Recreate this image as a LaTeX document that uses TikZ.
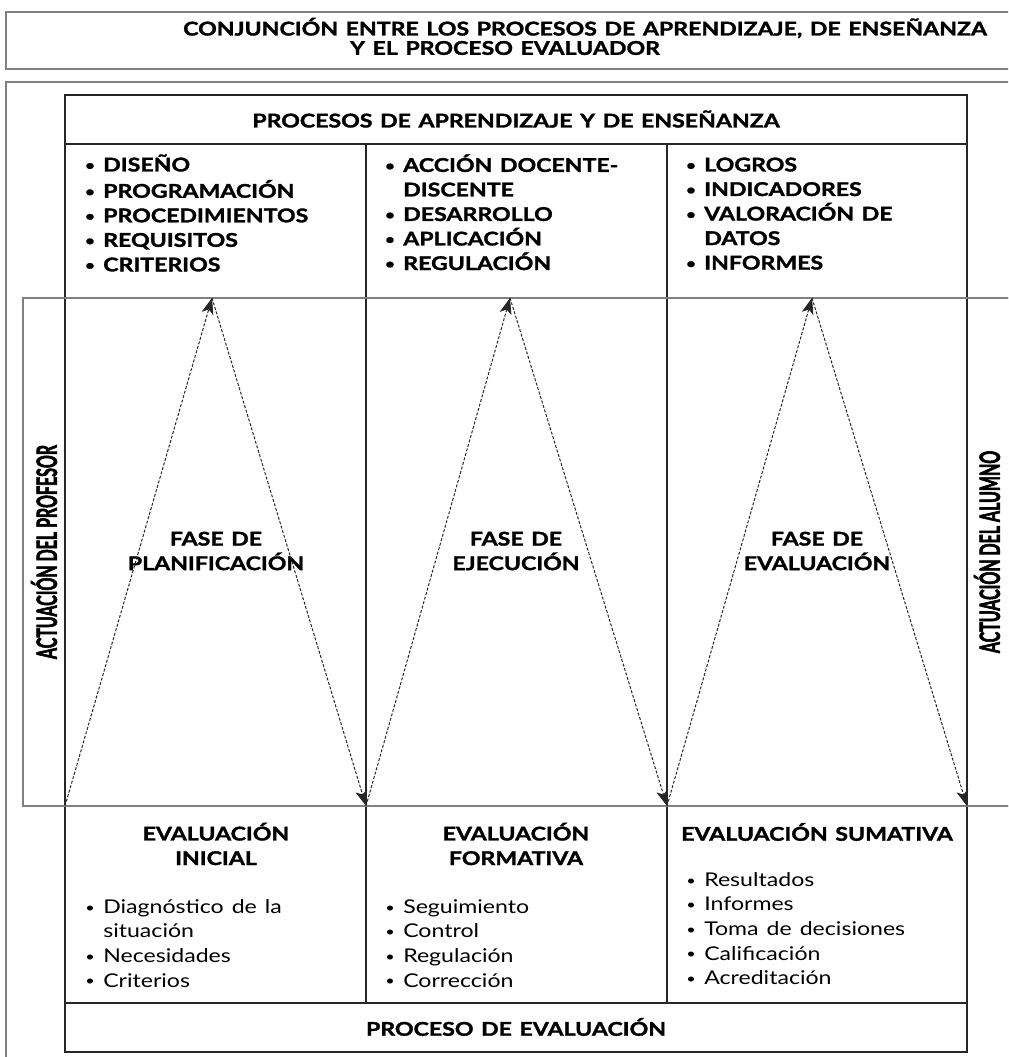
\documentclass[tikz,border=0pt]{standalone}
\usepackage{fontspec}
\setmainfont{Lato}[FakeStretch=1.22, WordSpace=1.35, BoldFeatures={FakeBold=1.6}]
\newfontfamily\narrowfont{Lato}[FakeStretch=0.57, BoldFeatures={FakeBold=2}]
\usetikzlibrary{arrows.meta}

\newcommand{\bul}{\makebox[13.5pt][l]{\raisebox{0.15ex}{\fontsize{10}{10}\selectfont\textbullet}}}

\tikzset{
  frame/.style={draw=black!50, line width=1.2pt},
  band/.style={draw=black!50, line width=1pt},
  grid/.style={draw=black!85, line width=0.8pt},
  phase arrow/.style={draw=black!85, line width=0.75pt, dash pattern=on 2.2pt off 1.3pt,
    -{Stealth[length=12pt,width=9pt,inset=3pt]}},
  boldtext/.style={font=\bfseries\fontsize{14.2}{18.4}\selectfont, inner sep=0pt},
  plaintext/.style={font=\fontsize{14.2}{18.4}\selectfont, inner sep=0pt},
  sidetext/.style={font=\narrowfont\bfseries\fontsize{21}{24}\selectfont, rotate=90, inner sep=0pt},
}

\begin{document}
\begin{tikzpicture}[x=0.75pt,y=0.75pt,yscale=-1,xscale=1]
\path[use as bounding box] (0,0) rectangle (1008,1057);
\clip (0,0) rectangle (1008,1057);

%Shape: Rectangle (title frame)
\draw[frame] (6,12) rectangle (1030,69);
%Shape: Rectangle (main frame)
\draw[frame] (6,82) rectangle (1030,1080);
%Shape: Rectangle (band)
\draw[band] (23,298) rectangle (1030,806);
%Shape: Rectangle (table)
\draw[grid] (65,95) rectangle (967,1052);
\draw[grid] (65,144) -- (967,144);
\draw[grid] (65,1003) -- (967,1003);
\draw[grid] (366,144) -- (366,1003);
\draw[grid] (667,144) -- (667,1003);
\draw[band] (23,298) -- (1030,298);
\draw[band] (23,806) -- (1030,806);

%Text Node
\node[boldtext] (title1) at (585,28) {CONJUNCIÓN ENTRE LOS PROCESOS DE APRENDIZAJE, DE ENSEÑANZA};
\node[boldtext] (title2) at (505,48) {Y EL PROCESO EVALUADOR};
\node[boldtext] (head) at (516,119) {PROCESOS DE APRENDIZAJE Y DE ENSEÑANZA};

%Text Node (upper lists)
\node[boldtext, anchor=north west, align=left] (diseno) at (85,154)
  {\strut\bul DISEÑO\\ \bul PROGRAMACIÓN\\ \bul PROCEDIMIENTOS\\ \bul REQUISITOS\\ \bul CRITERIOS};
\node[boldtext, anchor=north west, align=left] (accion) at (385,154)
  {\strut\bul ACCIÓN DOCENTE-\\ \hspace*{13.5pt}DISCENTE\\ \bul DESARROLLO\\ \bul APLICACIÓN\\ \bul REGULACIÓN};
\node[boldtext, anchor=north west, align=left] (logros) at (686,154)
  {\strut\bul LOGROS\\ \bul INDICADORES\\ \bul VALORACIÓN DE\\ \hspace*{13.5pt}DATOS\\ \bul INFORMES};

%Text Node (side labels)
\node[sidetext] (profesor) at (44,552) {ACTUACIÓN DEL PROFESOR};
\node[sidetext] (alumno) at (987,552) {ACTUACIÓN DEL ALUMNO};

%Text Node (phases)
\node[boldtext, align=center] (planif) at (216,551) {FASE DE\\ PLANIFICACIÓN};
\node[boldtext, align=center] (ejec) at (516,551) {FASE DE\\ EJECUCIÓN};
\node[boldtext, align=center] (evalu) at (817,551) {FASE DE\\ EVALUACIÓN};

%Coordinates of the triangles
\coordinate (b0) at (65,806);
\coordinate (b1) at (366,806);
\coordinate (b2) at (667,806);
\coordinate (b3) at (967,806);
\coordinate (t1) at (212,298);
\coordinate (t2) at (510,298);
\coordinate (t3) at (812,298);

%Dashed arrows
\draw[phase arrow] (b0) -- (t1);
\draw[phase arrow] (t1) -- (b1);
\draw[phase arrow] (b1) -- (t2);
\draw[phase arrow] (t2) -- (b2);
\draw[phase arrow] (b2) -- (t3);
\draw[phase arrow] (t3) -- (b3);

%Text Node (evaluation types)
\node[boldtext, align=center] (inicial) at (216,844) {EVALUACIÓN\\ INICIAL};
\node[boldtext, align=center] (formativa) at (516,844) {EVALUACIÓN\\ FORMATIVA};
\node[boldtext] (sumativa) at (817,832) {EVALUACIÓN SUMATIVA};

%Text Node (lower lists)
\node[plaintext, anchor=north west, align=left] (diagnostico) at (85,896)
  {\strut\bul Diagnóstico de la\\ \hspace*{13.5pt}situación\\ \bul Necesidades\\ \bul Criterios};
\node[plaintext, anchor=north west, align=left] (seguimiento) at (385,896)
  {\strut\bul Seguimiento\\ \bul Control\\ \bul Regulación\\ \bul Corrección};
\node[plaintext, anchor=north west, align=left] (resultados) at (686,869)
  {\strut\bul Resultados\\ \bul Informes\\ \bul Toma de decisiones\\ \bul Calificación\\ \bul Acreditación};

%Text Node
\node[boldtext] (proceso) at (516,1027) {PROCESO DE EVALUACIÓN};

\end{tikzpicture}
\end{document}
